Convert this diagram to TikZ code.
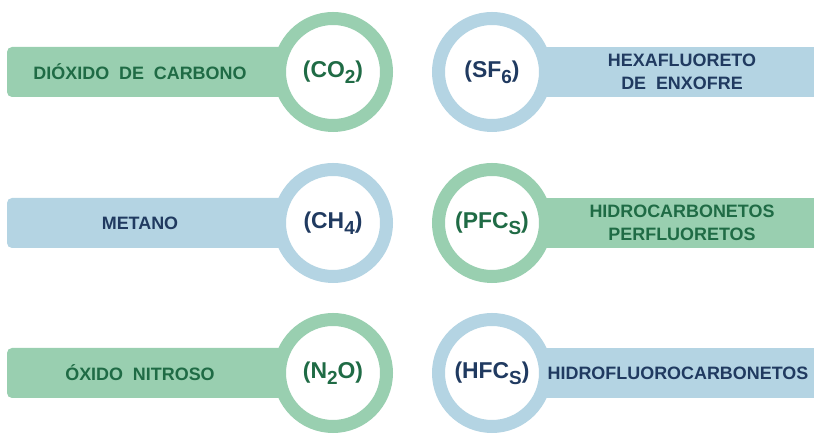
\documentclass[tikz,border=0pt]{standalone}
\usepackage{fontspec}
\setmainfont{Liberation Sans}
\usepackage{xcolor}
\usepackage{tikz}
\definecolor{gasgreen}{HTML}{99CFB0}
\definecolor{gasgreentext}{HTML}{1F6B45}
\definecolor{gasblue}{HTML}{B4D4E3}
\definecolor{gasbluetext}{HTML}{203A60}
\newcommand{\gasname}{\fontsize{18}{22.5}\selectfont\bfseries\spaceskip=0.55em\relax}
\newcommand{\gasformula}{\fontsize{23}{24}\selectfont\bfseries}
\newcommand{\chemsub}[1]{\raisebox{-6bp}{\fontsize{19}{20}\selectfont\bfseries #1}}

\begin{document}
\begin{tikzpicture}[x=1bp, y=1bp,
		ring/.style={circle, line width=13bp, fill=white, minimum size=107bp, inner sep=0pt, font=\gasformula},
		gaslabel/.style={align=center, font=\gasname, inner sep=0pt}]
		\useasboundingbox (0,0) rectangle (814,434);
		\fill[gasgreen, rounded corners=5bp] (7,337) rectangle (340,387);
		\fill[gasgreen] (492,186) rectangle (814,236);
		\fill[gasblue, rounded corners=5bp] (7,186) rectangle (340,236);
		\fill[gasblue] (492,337) rectangle (814,387);
		\fill[gasgreen, rounded corners=5bp] (7,36) rectangle (340,86);
		\fill[gasblue] (492,36) rectangle (814,86);

		\node[ring, draw=gasgreen, text=gasgreentext] (co2) at (333,362) {(CO\chemsub{2})};
		\node[gaslabel, text=gasgreentext] (co2name) at (140,362) {DIÓXIDO DE CARBONO};
		\node[ring, draw=gasblue, text=gasbluetext] (sf6) at (492,362) {(SF\chemsub{6})};
		\node[gaslabel, text=gasbluetext] (sf6name) at (682,362) {HEXAFLUORETO\\DE ENXOFRE};

		\node[ring, draw=gasblue, text=gasbluetext] (ch4) at (333,211) {(CH\chemsub{4})};
		\node[gaslabel, text=gasbluetext] (ch4name) at (140,211) {METANO};
		\node[ring, draw=gasgreen, text=gasgreentext] (pfcs) at (492,211) {(PFC\chemsub{S})};
		\node[gaslabel, text=gasgreentext] (pfcsname) at (682,211) {HIDROCARBONETOS\\PERFLUORETOS};

		\node[ring, draw=gasgreen, text=gasgreentext] (n2o) at (333,61) {(N\chemsub{2}O)};
		\node[gaslabel, text=gasgreentext] (n2oname) at (140,61) {ÓXIDO NITROSO};
		\node[ring, draw=gasblue, text=gasbluetext] (hfcs) at (492,61) {(HFC\chemsub{S})};
		\node[gaslabel, text=gasbluetext] (hfcsname) at (678,61) {HIDROFLUOROCARBONETOS};
	\end{tikzpicture}
\end{document}
